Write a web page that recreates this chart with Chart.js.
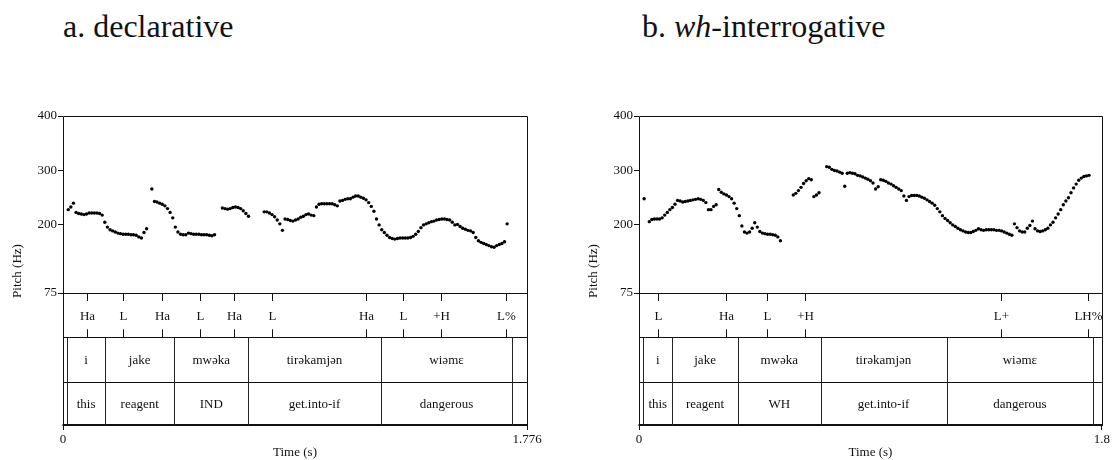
<!DOCTYPE html>
<html>
<head>
<meta charset="utf-8">
<script src="https://cdn.jsdelivr.net/npm/chart.js@4/dist/chart.umd.min.js"></script>
<style>
  html, body { margin: 0; padding: 0; background: #fff; }
  body { width: 1112px; height: 460px; position: relative; overflow: hidden; font-family: "Liberation Serif", "Times New Roman", serif; }
  .title { position: absolute; top: 8px; font-size: 32px; line-height: 36px; color: #111; white-space: nowrap; }
  .box { position: absolute; top: 100px; height: 360px; }
</style>
</head>
<body>
<div class="title" style="left:63px">a. declarative</div>
<div class="title" style="left:642px">b. <i>wh</i>-interrogative</div>
<div class="box" style="left:0px; width:556px"><canvas id="c1"></canvas></div>
<div class="box" style="left:576px; width:536px"><canvas id="c2"></canvas></div>
<script>
// ---------- DATA ----------
const yTickValues = [75, 200, 300, 400];

const declDuration = 1.776;
const declXTickLabels = ["0", "1.776"];
const declPitch = [
  [0.02,228],[0.03,233],[0.04,240],
  [0.05,223],[0.06,221],[0.07,220],[0.08,219],[0.09,220],[0.10,222],[0.11,222],[0.12,222],[0.13,222],[0.14,221],[0.15,218],
  [0.16,205],[0.17,196],[0.18,191],[0.19,189],[0.20,187],[0.21,185],[0.22,184],[0.23,183],[0.24,183],[0.25,183],[0.26,182],[0.27,182],[0.28,181],[0.29,178],[0.30,176],[0.31,186],[0.32,193],
  [0.34,266],[0.35,243],[0.36,242],[0.37,240],[0.38,238],[0.39,235],[0.40,230],[0.41,223],[0.42,213],[0.43,196],[0.44,187],[0.45,183],[0.46,182],[0.47,182],[0.48,185],[0.49,184],[0.50,183],[0.51,183],[0.52,183],[0.53,182],[0.54,182],[0.55,182],[0.56,181],[0.57,180],[0.58,182],
  [0.61,231],[0.62,230],[0.63,229],[0.64,230],[0.65,232],[0.66,233],[0.67,232],[0.68,230],[0.69,226],[0.70,221],[0.71,216],
  [0.77,224],[0.78,224],[0.79,222],[0.80,219],[0.81,215],[0.82,209],[0.83,202],[0.84,190],
  [0.85,211],[0.86,210],[0.87,208],[0.88,207],[0.89,209],[0.90,211],[0.91,214],[0.92,216],[0.93,219],[0.94,220],[0.95,218],[0.96,217],
  [0.97,233],[0.98,238],[0.99,239],[1.00,239],[1.01,239],[1.02,239],[1.03,239],[1.04,237],[1.05,235],
  [1.06,244],[1.07,245],[1.08,247],[1.09,248],[1.10,248],[1.11,251],[1.12,253],[1.13,253],[1.14,251],[1.15,249],[1.16,246],[1.17,241],[1.18,234],[1.19,225],[1.20,211],[1.21,200],[1.22,191],[1.23,186],[1.24,181],[1.25,177],[1.26,175],[1.27,174],[1.28,175],[1.29,176],[1.30,176],[1.31,176],[1.32,176],[1.33,177],[1.34,179],[1.35,183],[1.36,188],[1.37,195],[1.38,200],[1.39,202],[1.40,204],[1.41,206],[1.42,207],[1.43,209],[1.44,210],[1.45,211],[1.46,211],[1.47,210],[1.48,209],[1.49,205],[1.50,200],
  [1.51,201],[1.52,197],[1.53,194],[1.54,192],[1.55,190],[1.56,189],[1.57,186],[1.58,177],[1.59,171],[1.60,168],[1.61,166],[1.62,164],[1.63,162],[1.64,160],[1.65,159],[1.66,162],[1.67,164],[1.68,166],[1.69,169],
  [1.70,202]
];
const declTones = [[0.091,"Ha"],[0.231,"L"],[0.379,"Ha"],[0.524,"L"],[0.656,"Ha"],[0.801,"L"],[1.160,"Ha"],[1.300,"L"],[1.447,"+H"],[1.696,"L%"]];
const declBounds = [0, 0.016, 0.161, 0.426, 0.709, 1.216, 1.720, 1.776];
const declWords = ["", "i", "jake", "mwəka", "tirəkamjən", "wiəmɛ", ""];
const declGloss = ["", "this", "reagent", "IND", "get.into-if", "dangerous", ""];

const whDuration = 1.8;
const whXTickLabels = ["0", "1.8"];
const whPitch = [
  [0.02,248],
  [0.04,206],[0.05,210],[0.06,211],[0.07,211],[0.08,211],[0.09,213],[0.10,218],[0.11,223],[0.12,228],[0.13,232],[0.14,238],[0.15,245],[0.16,244],[0.17,242],[0.18,243],[0.19,244],[0.20,245],[0.21,246],[0.22,247],[0.23,248],[0.24,247],[0.25,245],[0.26,241],
  [0.27,228],[0.28,228],[0.29,234],[0.30,237],
  [0.31,265],[0.32,260],[0.33,257],[0.34,255],[0.35,252],[0.36,248],[0.37,240],[0.38,230],[0.39,217],[0.40,198],[0.41,187],[0.42,185],[0.43,187],[0.44,194],[0.45,204],[0.46,196],[0.47,188],[0.48,185],[0.49,184],[0.50,183],[0.51,183],[0.52,182],[0.53,181],[0.54,178],[0.55,171],
  [0.60,255],[0.61,258],[0.62,263],[0.63,269],[0.64,276],[0.65,281],[0.66,285],[0.67,283],
  [0.68,252],[0.69,255],[0.70,259],
  [0.73,307],[0.74,306],[0.75,302],[0.76,300],[0.77,299],[0.78,297],[0.79,295],[0.80,271],[0.81,295],[0.82,296],[0.83,295],[0.84,294],[0.85,291],[0.86,290],[0.87,288],[0.88,286],[0.89,284],[0.90,281],[0.91,277],[0.92,266],[0.93,270],[0.94,283],[0.95,282],[0.96,280],[0.97,277],[0.98,275],[0.99,272],[1.00,269],[1.01,266],[1.02,263],[1.03,253],[1.04,245],[1.05,252],[1.06,254],[1.07,254],[1.08,254],[1.09,253],[1.10,251],[1.11,249],[1.12,246],[1.13,243],[1.14,240],[1.15,236],[1.16,230],[1.17,224],[1.18,217],[1.19,212],[1.20,208],[1.21,204],[1.22,200],[1.23,197],[1.24,194],[1.25,191],[1.26,189],[1.27,187],[1.28,186],[1.29,186],[1.30,188],[1.31,190],[1.32,193],[1.33,191],[1.34,190],[1.35,191],[1.36,191],[1.37,191],[1.38,191],[1.39,190],[1.40,190],[1.41,189],[1.42,187],[1.43,185],[1.44,183],[1.45,181],
  [1.46,202],[1.47,195],[1.48,189],[1.49,187],[1.50,187],[1.51,194],[1.52,199],[1.53,207],
  [1.54,193],[1.55,189],[1.56,188],[1.57,189],[1.58,191],[1.59,194],[1.60,200],[1.61,205],[1.62,213],[1.63,220],[1.64,228],[1.65,237],[1.66,244],[1.67,250],[1.68,259],[1.69,268],[1.70,275],[1.71,282],[1.72,286],[1.73,289],[1.74,290],[1.75,291]
];
const whTones = [[0.073,"L"],[0.340,"Ha"],[0.498,"L"],[0.644,"+H"],[1.409,"L+"],[1.746,"LH%"]];
const whBounds = [0, 0.017, 0.129, 0.385, 0.706, 1.196, 1.766, 1.8];
const whWords = ["", "i", "jake", "mwəka", "tirəkamjən", "wiəmɛ", ""];
const whGloss = ["", "this", "reagent", "WH", "get.into-if", "dangerous", ""];

// ---------- RENDER ----------
const FONT = "'Liberation Serif', 'Times New Roman', serif";
const INK = '#111';
// the pitch region occupies the upper part; three tiers below the 75 Hz line
const PITCH_FRACTION = 177 / 310;
const Y_MAX = 400, Y_FLOOR = 75;
const Y_MIN = Y_MAX - (Y_MAX - Y_FLOOR) / PITCH_FRACTION;

const tierPlugin = {
  id: 'tiers',
  afterDraw(chart, args, o) {
    const { ctx, chartArea: a, scales: { x, y } } = chart;
    const px = v => Math.round(v) + 0.5;
    const top = y.getPixelForValue(Y_FLOOR);
    const rowH = (a.bottom - top) / 3;
    const r1 = top + rowH, r2 = top + 2 * rowH;
    ctx.save();
    ctx.strokeStyle = INK;
    ctx.lineWidth = 1;
    ctx.beginPath();
    ctx.moveTo(px(a.left), px(a.top)); ctx.lineTo(px(a.right), px(a.top));
    ctx.moveTo(px(a.left), px(a.top)); ctx.lineTo(px(a.left), a.bottom);
    ctx.moveTo(px(a.right), px(a.top)); ctx.lineTo(px(a.right), a.bottom);
    ctx.moveTo(a.left, px(top)); ctx.lineTo(a.right, px(top));
    ctx.moveTo(a.left, px(r1)); ctx.lineTo(a.right, px(r1));
    ctx.moveTo(a.left, px(r2)); ctx.lineTo(a.right, px(r2));
    ctx.stroke();
    ctx.lineWidth = 2;
    ctx.beginPath();
    ctx.moveTo(a.left - 0.5, Math.round(a.bottom) - 1); ctx.lineTo(a.right + 0.5, Math.round(a.bottom) - 1);
    ctx.stroke();
    ctx.lineWidth = 1;
    ctx.fillStyle = INK;
    ctx.font = '13px ' + FONT;
    ctx.textAlign = 'center';
    ctx.textBaseline = 'middle';
    o.tones.forEach(([t, lab]) => {
      const xp = px(x.getPixelForValue(t));
      ctx.beginPath();
      ctx.moveTo(xp, top); ctx.lineTo(xp, top + 8);
      ctx.moveTo(xp, r1 - 8); ctx.lineTo(xp, r1);
      ctx.stroke();
      ctx.fillText(lab, xp, top + rowH / 2 + 1);
    });
    ctx.strokeStyle = '#222';
    for (let i = 1; i < o.bounds.length - 1; i++) {
      const xp = px(x.getPixelForValue(o.bounds[i]));
      ctx.beginPath();
      ctx.moveTo(xp, r1); ctx.lineTo(xp, a.bottom);
      ctx.stroke();
    }
    for (let i = 0; i < o.words.length; i++) {
      const xc = (x.getPixelForValue(o.bounds[i]) + x.getPixelForValue(o.bounds[i + 1])) / 2;
      if (o.words[i]) ctx.fillText(o.words[i], xc, r1 + rowH / 2 + 1);
      if (o.gloss[i]) ctx.fillText(o.gloss[i], xc, r2 + rowH / 2 + 1);
    }
    ctx.restore();
  }
};

function makeChart(id, pitch, duration, xLabels, tones, bounds, words, gloss, padRight) {
  return new Chart(document.getElementById(id), {
    type: 'scatter',
    data: {
      datasets: [{
        data: pitch.map(([t, hz]) => ({ x: t, y: hz })),
        pointRadius: 1.7,
        pointHoverRadius: 1.7,
        pointBackgroundColor: '#000',
        pointBorderWidth: 0,
        showLine: false
      }]
    },
    options: {
      responsive: true,
      maintainAspectRatio: false,
      animation: false,
      events: [],
      layout: { padding: { left: 0, right: padRight, top: 16, bottom: 0 } },
      plugins: {
        legend: { display: false },
        tooltip: { enabled: false },
        tiers: { tones, bounds, words, gloss }
      },
      scales: {
        x: {
          type: 'linear',
          min: 0, max: duration,
          afterBuildTicks: s => { s.ticks = [{ value: 0 }, { value: duration }]; },
          afterFit: s => { s.height = 34; },
          ticks: {
            autoSkip: false, maxRotation: 0,
            color: INK, font: { family: FONT, size: 13 }, padding: 2,
            callback: (v, i) => xLabels[i]
          },
          grid: { drawOnChartArea: false, drawTicks: true, tickLength: 4, color: INK },
          border: { display: false },
          title: { display: true, text: 'Time (s)', color: INK, font: { family: FONT, size: 13 }, padding: { top: 0, bottom: 0 } }
        },
        y: {
          type: 'linear',
          min: Y_MIN, max: Y_MAX,
          afterBuildTicks: s => { s.ticks = yTickValues.map(v => ({ value: v })); },
          afterFit: s => { s.width = 63; },
          ticks: {
            autoSkip: false, color: INK, font: { family: FONT, size: 13 }, padding: 1,
            callback: v => String(v)
          },
          grid: { drawOnChartArea: false, drawTicks: true, tickLength: 5, color: INK },
          border: { display: false },
          title: { display: true, text: 'Pitch (Hz)', color: INK, font: { family: FONT, size: 13 }, padding: { top: 10, bottom: 0 } }
        }
      }
    },
    plugins: [tierPlugin]
  });
}

makeChart('c1', declPitch, declDuration, declXTickLabels, declTones, declBounds, declWords, declGloss, 29);
makeChart('c2', whPitch, whDuration, whXTickLabels, whTones, whBounds, whWords, whGloss, 9);
</script>
</body>
</html>
